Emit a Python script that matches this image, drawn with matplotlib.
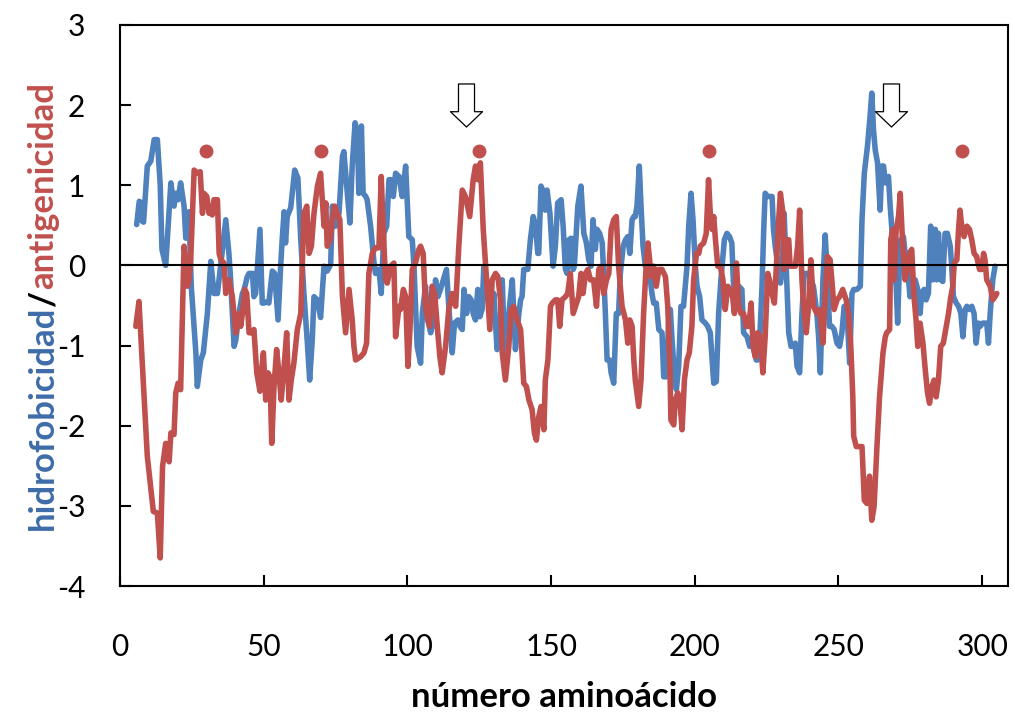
import matplotlib
matplotlib.use("Agg")
import matplotlib.pyplot as plt
from matplotlib.path import Path

# ---------------- data ----------------
blue_x = [5.8, 6.7, 7.5, 7.8, 8.2, 9.5, 10.7, 11.9, 13.0, 14.0, 14.6, 15.9, 17.7, 18.8, 19.4, 20.2, 21.1, 22.3, 22.9, 23.5,
          24.0, 24.8, 26.4, 26.9, 28.1, 29.0, 30.4, 31.6, 32.7, 33.9, 35.0, 36.8, 37.9, 38.5, 39.7, 40.3, 41.4, 42.6, 43.2, 44.3,
          44.9, 46.1, 46.6, 47.2, 48.7, 49.5, 50.1, 51.3, 51.8, 53.0, 53.8, 55.0, 55.9, 56.5, 57.1, 57.6, 58.2, 59.4, 60.8, 61.9,
          62.9, 64.0, 65.2, 66.0, 66.9, 67.5, 68.7, 69.8, 71.0, 72.1, 73.3, 73.9, 75.0, 76.2, 77.4, 77.9, 79.1, 80.0, 80.8, 81.8,
          82.6, 83.1, 84.0, 84.6, 85.5, 86.0, 87.2, 88.4, 88.9, 90.1, 90.9, 91.8, 92.8, 93.6, 94.4, 95.1, 95.9, 97.1, 98.2, 99.4,
          100.5, 101.7, 102.3, 103.4, 104.6, 105.2, 106.3, 107.1, 108.1, 109.0, 109.8, 110.6, 111.5, 112.5, 113.6, 114.4, 115.6, 116.4, 117.6, 118.3,
          119.1, 119.7, 120.6, 121.4, 122.2, 122.9, 123.7, 124.5, 125.2, 126.0, 126.6, 127.8, 128.9, 130.1, 131.2, 132.2, 133.0, 133.8, 134.5, 135.3,
          136.5, 137.6, 138.8, 139.4, 139.9, 140.5, 141.9, 142.8, 143.8, 144.6, 145.4, 145.7, 146.5, 147.5, 148.0, 148.6, 149.6, 150.7, 151.5, 152.3,
          153.5, 154.2, 155.0, 155.6, 156.2, 157.0, 157.7, 158.1, 159.3, 160.4, 161.4, 162.3, 163.1, 163.9, 164.6, 165.4, 166.0, 166.9, 167.8, 168.3,
          168.9, 169.5, 170.4, 170.9, 171.8, 172.7, 173.5, 174.1, 175.1, 175.9, 176.7, 177.4, 178.2, 178.8, 179.3, 179.9, 180.7, 181.3, 182.0, 182.8,
          184.0, 185.1, 185.7, 186.6, 187.5, 188.6, 189.2, 190.1, 190.9, 191.5, 192.1, 192.9, 193.6, 194.4, 195.2, 196.1, 196.7, 197.3, 197.9, 198.7,
          199.4, 200.2, 200.8, 201.7, 202.5, 203.7, 204.5, 205.4, 206.6, 207.5, 208.3, 209.1, 210.3, 211.2, 212.1, 212.9, 213.5, 214.5, 215.3, 216.4,
          217.0, 218.2, 219.1, 219.9, 220.5, 221.4, 221.9, 222.6, 223.4, 224.0, 224.5, 225.4, 226.0, 226.9, 227.4, 228.0, 228.8, 229.8, 230.3, 231.1,
          231.8, 232.7, 233.5, 234.4, 235.0, 235.6, 236.5, 237.3, 238.1, 238.8, 239.6, 240.4, 241.3, 242.5, 243.1, 243.7, 244.6, 245.4, 246.2, 246.9,
          247.7, 248.5, 249.5, 250.4, 251.2, 252.0, 253.0, 253.9, 254.7, 255.3, 256.4, 257.6, 258.2, 259.0, 260.1, 261.0, 261.6, 262.2, 262.8, 263.6,
          264.5, 265.1, 265.7, 266.3, 266.8, 267.4, 268.0, 268.6, 269.2, 270.1, 270.6, 271.2, 271.7, 272.6, 273.2, 273.8, 274.4, 274.9, 275.5, 276.1,
          276.7, 277.3, 277.9, 278.4, 279.0, 279.8, 280.5, 281.3, 282.1, 282.8, 283.7, 284.2, 284.8, 285.6, 286.3, 287.1, 287.9, 288.9, 289.4, 290.0,
          291.0, 291.8, 292.6, 293.3, 294.1, 294.7, 295.6, 296.4, 297.2, 297.9, 298.7, 299.3, 300.2, 301.0, 301.6, 302.2, 302.8, 303.7, 304.5]
blue_y = [0.51, 0.80, 0.78, 0.55, 0.54, 1.24, 1.30, 1.57, 1.57, 1.00, 0.20, 0.00, 1.03, 0.74, 0.90, 0.82, 1.03, 0.74, 0.34, 0.65,
          0.67, -0.26, -1.09, -1.51, -1.18, -1.09, -0.60, 0.05, -0.35, -0.35, -0.01, 0.57, 0.15, -0.18, -1.01, -0.93, -0.60, -0.35, -0.30, -0.14,
          -0.10, -0.10, -0.39, -0.35, 0.45, -0.47, -0.47, -0.45, -0.47, -0.07, -0.10, -0.68, -0.01, 0.36, 0.67, 0.28, 0.61, 0.72, 1.19, 1.09,
          0.32, -0.35, -0.97, -1.43, -0.93, -0.39, -0.43, -0.65, -0.01, -0.07, 0.01, 0.74, 0.49, 0.65, 1.36, 1.42, 0.90, 0.53, 1.24, 1.78,
          1.65, 0.90, 1.74, 0.90, 0.86, 0.82, 0.49, 0.03, -0.10, -0.05, -0.35, 0.40, 0.49, 1.07, 1.07, 0.86, 1.15, 1.11, 0.86, 1.24,
          0.36, 0.32, -0.01, -1.01, -1.22, -0.60, -0.26, -0.68, -0.84, -0.72, -0.18, -0.39, -0.30, -0.18, -0.05, -0.51, -1.09, -0.72, -0.68, -0.76,
          -0.80, -0.30, -0.60, -0.39, -0.43, -0.60, -0.68, -0.30, -0.64, -0.55, -0.01, -0.35, -0.60, -0.35, -1.05, -0.93, -0.18, -1.01, -1.09, -0.60,
          -0.18, -1.05, -0.60, -0.43, -0.39, -0.05, -0.05, 0.32, 0.61, 0.49, 0.15, 0.15, 0.99, 0.90, 0.69, 0.94, 0.65, -0.01, 0.24, 0.78,
          0.82, 0.49, -0.05, -0.10, 0.32, 0.34, -0.05, -0.01, 0.74, 0.99, 0.40, 0.28, 0.07, -0.01, 0.57, 0.20, 0.45, 0.40, 0.28, -0.10,
          -0.60, -1.18, -1.18, -1.34, -1.47, -0.60, -0.60, -0.10, 0.24, 0.32, 0.36, 0.15, 0.57, 0.61, 0.61, 0.74, 1.24, 0.74, 0.24, -0.01,
          -0.01, -0.35, -0.47, -0.47, -0.80, -0.84, -1.39, -1.39, -0.72, -0.55, -0.93, -1.34, -1.55, -1.26, -0.51, -0.51, -0.26, -0.01, 0.49, 0.90,
          0.57, -0.01, -0.26, -0.39, -0.68, -0.72, -0.76, -0.84, -1.47, -1.45, -0.60, -0.18, 0.32, 0.40, 0.36, 0.28, -0.26, -0.30, -0.26, -0.30,
          -0.84, -0.89, -1.01, -0.97, -1.05, -1.18, -1.18, -0.93, -0.26, 0.45, 0.90, 0.86, 0.86, 0.86, 0.45, 0.24, 0.03, -0.22, -0.10, 0.65,
          -0.01, -0.84, -1.01, -1.01, -0.97, -1.26, -1.34, -0.60, -0.10, -0.10, -0.10, -0.18, -0.26, -0.60, -0.89, -1.34, -0.18, 0.38, -0.18, -0.76,
          -0.76, -0.80, -0.97, -1.01, -0.84, -0.51, -0.60, -1.22, -0.35, -0.30, -0.30, -0.26, 0.57, 1.15, 1.49, 1.86, 2.15, 1.69, 1.44, 1.28,
          0.69, 1.24, 1.24, 1.03, 1.07, 1.11, 0.74, 0.45, 0.03, -0.26, -0.72, -0.01, 0.32, 0.36, 0.15, 0.15, -0.18, -0.39, -0.26, -0.35,
          -0.18, -0.26, -0.35, -0.60, -0.35, -0.30, -0.43, -0.35, 0.49, -0.18, 0.45, -0.18, 0.40, -0.18, -0.20, 0.40, 0.40, 0.24, -0.01, -0.39,
          -0.47, -0.51, -0.60, -0.89, -0.55, -0.51, -0.55, -0.51, -0.60, -0.97, -0.72, -0.76, -0.72, -0.72, -0.72, -0.97, -0.60, -0.18, -0.01]

red_x = [5.5, 6.6, 9.5, 11.6, 13.0, 14.0, 14.8, 15.9, 16.5, 17.1, 17.7, 18.8, 19.4, 20.2, 21.1, 22.3, 22.9, 23.5, 24.0, 24.6,
         25.8, 26.4, 27.2, 27.9, 28.7, 29.2, 30.2, 31.0, 31.6, 32.1, 32.7, 33.9, 34.5, 35.1, 36.2, 36.8, 37.4, 37.9, 39.1, 40.3,
         41.4, 42.0, 42.6, 43.4, 44.1, 44.9, 46.1, 46.6, 47.6, 48.7, 49.2, 49.9, 50.7, 51.5, 52.2, 52.8, 53.6, 54.5, 55.3, 56.1,
         57.1, 58.0, 58.8, 59.6, 60.5, 61.7, 62.9, 64.0, 65.0, 65.8, 66.6, 67.5, 68.7, 69.8, 70.4, 71.0, 71.6, 72.1, 73.1, 73.9,
         74.7, 75.6, 76.5, 77.4, 78.5, 79.7, 80.8, 81.4, 82.0, 83.7, 84.9, 85.8, 86.6, 87.8, 88.9, 90.1, 90.9, 91.6, 92.4, 93.0,
         94.2, 95.3, 95.9, 97.1, 97.6, 98.6, 99.4, 100.2, 100.9, 101.7, 102.8, 104.0, 104.6, 105.5, 106.3, 107.1, 107.8, 108.6, 109.5, 110.4,
         111.3, 112.1, 113.3, 114.4, 115.6, 116.8, 117.9, 119.1, 120.2, 121.7, 122.9, 123.7, 124.5, 125.4, 126.4, 127.5, 128.7, 129.5, 130.7, 131.5,
         132.4, 133.0, 134.1, 135.3, 136.1, 137.0, 138.2, 139.4, 140.5, 141.4, 142.3, 143.4, 144.2, 144.9, 145.7, 146.5, 147.5, 148.0, 148.9, 149.8,
         150.4, 151.5, 152.3, 153.0, 153.8, 155.0, 155.8, 156.7, 157.7, 158.5, 159.6, 160.4, 161.1, 162.0, 162.8, 163.7, 164.8, 165.8, 166.6, 167.4,
         168.3, 169.3, 170.1, 170.9, 171.8, 172.7, 173.5, 174.7, 175.9, 176.7, 177.4, 178.2, 178.8, 179.3, 180.5, 181.3, 182.2, 183.2, 183.7, 184.3,
         184.8, 185.7, 186.6, 187.5, 188.6, 189.8, 190.6, 191.3, 191.7, 192.7, 193.2, 194.1, 194.8, 195.6, 196.4, 197.3, 198.1, 199.0, 199.6, 200.6,
         201.4, 201.9, 203.1, 204.0, 204.8, 205.4, 206.0, 206.6, 207.2, 208.0, 208.9, 209.8, 210.6, 211.5, 212.1, 212.9, 213.8, 214.5, 215.3, 216.1,
         217.0, 217.9, 218.8, 219.6, 220.3, 221.1, 221.9, 222.8, 223.7, 224.5, 225.4, 226.0, 226.9, 227.7, 228.4, 229.2, 229.8, 230.7, 231.1, 231.8,
         232.7, 233.2, 234.2, 235.0, 235.8, 236.5, 237.3, 237.9, 238.8, 239.6, 240.4, 241.3, 242.5, 243.4, 244.6, 245.4, 246.2, 247.1, 247.7, 248.5,
         249.5, 250.4, 251.5, 252.7, 253.5, 254.3, 255.0, 255.3, 256.2, 257.3, 258.2, 259.0, 259.9, 260.8, 261.6, 262.4, 263.4, 264.3, 265.5, 266.3,
         266.8, 267.8, 268.2, 268.9, 269.4, 270.1, 270.9, 271.5, 272.1, 272.6, 273.2, 274.0, 274.7, 275.5, 276.3, 277.0, 277.6, 278.4, 279.4, 280.2,
         281.0, 281.7, 282.5, 283.3, 284.0, 284.8, 285.6, 286.5, 287.5, 288.3, 289.1, 289.8, 290.3, 291.2, 291.8, 292.3, 292.9, 293.7, 294.7, 295.6,
         296.4, 297.2, 298.1, 299.1, 299.9, 300.5, 301.0, 301.6, 302.8, 303.7, 304.5, 305.1]
red_y = [-0.76, -0.45, -2.38, -3.07, -3.09, -3.65, -2.51, -2.22, -2.30, -2.45, -2.09, -2.11, -1.59, -1.47, -1.55, 0.24, 0.07, -0.26, -0.18, 0.07,
         1.19, 1.17, 1.15, 1.17, 0.65, 0.90, 0.86, 0.65, 0.72, 0.63, 0.82, 0.82, 0.15, 0.07, 0.03, -0.35, -0.22, -0.18, -0.39, -0.84,
         -0.60, -0.76, -0.60, -0.30, -0.35, -0.84, -0.84, -0.80, -1.34, -1.57, -1.34, -1.09, -1.68, -1.34, -1.39, -2.22, -1.51, -1.05, -1.34, -1.68,
         -1.26, -0.84, -1.68, -1.43, -1.22, -0.80, -0.60, 0.65, 0.74, 0.15, 0.24, 0.65, 0.99, 1.15, 0.82, 0.49, 0.78, 0.24, 0.32, 0.57,
         0.74, 0.65, 0.57, -0.39, -0.84, -0.30, -0.68, -1.01, -1.18, -1.14, -1.09, -0.97, -0.10, 0.15, 0.22, 0.22, 1.11, 0.45, -0.18, -0.22,
         -0.01, 0.03, -0.89, -0.51, -0.55, -0.30, -0.39, -1.26, -0.80, -0.05, 0.03, 0.20, 0.24, 0.15, -0.51, -0.68, -0.76, -0.26, -0.35, -0.76,
         -1.14, -1.34, -1.01, -0.55, -0.35, -0.51, 0.24, 0.94, 0.86, 0.61, 1.07, 1.24, 1.07, 1.28, 0.45, -0.14, -0.80, -0.18, -0.10, -0.14,
         -0.43, -1.09, -1.43, -1.01, -0.55, -0.51, -0.68, -0.80, -1.47, -1.51, -1.68, -1.80, -2.09, -2.18, -1.89, -1.76, -2.05, -1.43, -1.18, -0.51,
         -0.47, -0.43, -0.43, -0.76, -0.43, -0.39, -0.35, -0.10, -0.60, -0.51, -0.39, -0.10, -0.35, -0.10, -0.05, -0.18, -0.18, -0.51, -0.05, -0.01,
         -0.35, -0.18, -0.10, 0.45, 0.57, 0.61, -0.01, -0.51, -0.68, -0.97, -0.68, -0.76, -1.18, -1.43, -1.76, -1.43, -0.60, 0.07, 0.28, 0.07,
         -0.14, -0.01, -0.26, -0.05, -0.05, -0.14, -0.51, -1.18, -1.93, -1.99, -1.68, -1.59, -1.68, -2.05, -1.43, -1.18, -1.09, -0.76, -0.18, 0.15,
         0.15, 0.24, 0.28, 0.40, 1.07, 0.65, 0.45, 0.61, 0.32, -0.01, -0.01, -0.18, -0.55, -0.26, -0.35, -0.30, -0.60, 0.03, -0.51, -0.60,
         -0.60, -0.76, -0.76, -0.47, -1.01, -1.14, -0.84, -0.89, -1.34, -0.89, -0.10, -0.18, -0.35, -0.47, -0.01, 0.57, 0.90, 0.65, -0.05, 0.32,
         0.32, -0.01, -0.01, -0.01, 0.24, 0.69, -0.18, -0.51, -0.84, -0.51, 0.07, -0.51, -0.60, -0.55, -0.97, -0.39, 0.11, 0.07, -0.18, -0.55,
         -0.43, -0.39, -0.30, -0.43, -0.60, -1.01, -1.64, -2.13, -2.26, -2.26, -2.26, -2.93, -2.97, -2.63, -3.18, -3.01, -2.26, -1.64, -1.09, -0.89,
         -0.84, -0.80, 0.32, 0.45, -0.18, 0.45, 0.61, 0.90, 0.45, 0.11, -0.18, -0.05, 0.15, 0.20, -0.39, -0.68, -1.01, -0.72, -0.97, -1.30,
         -1.59, -1.72, -1.51, -1.43, -1.64, -1.43, -1.01, -0.97, -0.76, -0.60, -0.39, -0.26, 0.03, 0.07, 0.45, 0.69, 0.49, 0.36, 0.49, 0.45,
         0.32, 0.15, 0.11, -0.05, -0.05, 0.15, 0.07, -0.18, -0.26, -0.43, -0.39, -0.35]

dot_x = [30, 70, 125, 205, 293]
dot_y = [1.43, 1.43, 1.43, 1.43, 1.43]
arrow_x = [120.5, 268.3]
arrow_y = [2.0, 2.0]

x_ticks = [0, 50, 100, 150, 200, 250, 300]
y_ticks = [-4, -3, -2, -1, 0, 1, 2, 3]

BLUE = "#4F81BD"
RED = "#C0504D"
BLUE_TXT = "#3E6CA8"

plt.rcParams['font.family'] = ['Lato', 'DejaVu Sans']
plt.rcParams['axes.unicode_minus'] = False

fig = plt.figure(figsize=(10.15, 7.12), dpi=100)
ax = fig.add_axes([120 / 1015, (712 - 586) / 712, 888 / 1015, 561 / 712])

ax.plot(blue_x, blue_y, color=BLUE, lw=4.0, solid_joinstyle='round', solid_capstyle='round', zorder=3)
ax.plot(red_x, red_y, color=RED, lw=4.0, solid_joinstyle='round', solid_capstyle='round', zorder=4)
ax.axhline(0, color='black', lw=1.5, zorder=5)
ax.plot(dot_x, dot_y, 'o', color=RED, ms=9, ls='none', zorder=6)

# down-arrow marker
arrow_path = Path([(-8, 21.5), (8, 21.5), (8, -6.2), (16, -6.2), (0, -21.5), (-16, -6.2), (-8, -6.2), (-8, 21.5)],
                  [Path.MOVETO] + [Path.LINETO] * 6 + [Path.CLOSEPOLY])
ax.plot(arrow_x, arrow_y, marker=arrow_path, ms=31, mfc='white', mec='black', mew=0.9, ls='none', zorder=7)

ax.set_xlim(0, 309)
ax.set_ylim(-4, 3)
ax.set_xticks(x_ticks)
ax.set_yticks(y_ticks)
ax.tick_params(axis='both', direction='in', length=8, width=1.5, labelsize=21.5, colors='black')
ax.tick_params(axis='x', pad=34)
ax.tick_params(axis='y', pad=25)
for s in ax.spines.values():
    s.set_linewidth(1.5)
    s.set_color('black')

ax.set_xlabel("número aminoácido", fontsize=25, fontweight='bold')
ax.xaxis.set_label_coords(0.5, (586 - 697) / 561)
ax.xaxis.label.set_va('center')

# multi-colour y label, pieces placed along the text advance
fig.canvas.draw()
r = fig.canvas.get_renderer()
xl = 53 / 1015
y0 = (712 - 530) / 712
parts = [("hidrofobicidad", BLUE_TXT), ("/", "black"), ("antigenicidad", RED)]
props = dict(fontsize=25, fontweight='bold')


def text_len(s):
    tt = fig.text(0, 0, s, rotation=90, rotation_mode='anchor', ha='left', va='baseline', **props)
    h = tt.get_window_extent(renderer=r).height
    tt.remove()
    return h


prefix = ""
for txt, col in parts:
    if prefix:
        off = text_len(prefix + txt) - text_len(txt)
    else:
        off = 0.0
    fig.text(xl, y0 + off / fig.bbox.height, txt, rotation=90, rotation_mode='anchor',
             ha='left', va='baseline', color=col, **props)
    prefix += txt

fig.savefig("out.png", dpi=100)
